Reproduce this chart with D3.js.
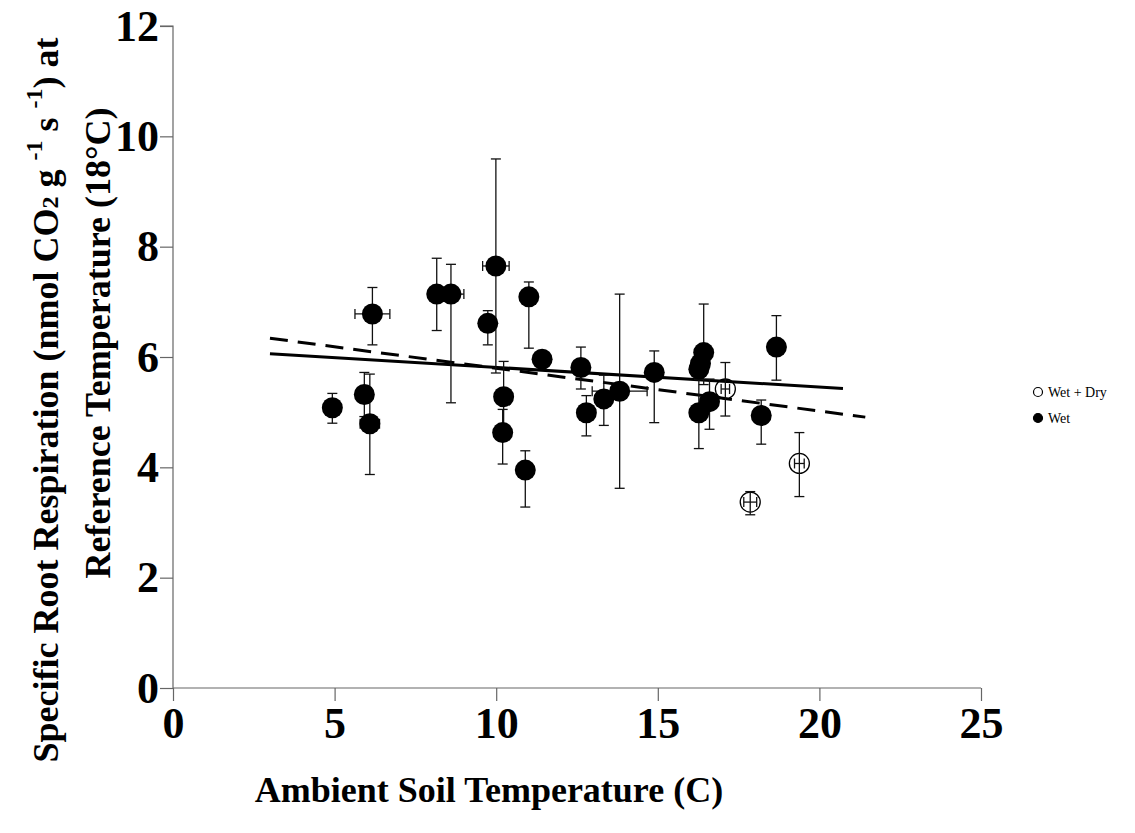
<!DOCTYPE html>
<html><head><meta charset="utf-8">
<script src="https://cdn.jsdelivr.net/npm/d3@7"></script>
<style>body{margin:0;background:#fff}svg{display:block}</style>
</head><body>
<svg id="c" width="1135" height="833"></svg>
<script>
// ---- data ----
const wetX   = [4.93,5.92,6.09,6.17,8.16,8.60,9.74,9.99,11.01,11.42,10.23,10.20,10.90,12.62,12.79,13.33,13.82,14.89,16.42,16.32,16.27,16.27,16.60,18.67,18.20];
const wetY   = [5.08,5.32,4.79,6.78,7.14,7.14,6.61,7.65,7.09,5.96,5.28,4.63,3.95,5.81,4.99,5.24,5.38,5.72,6.08,5.88,5.78,4.99,5.19,6.18,4.94];
const wetYLo = [4.80,4.92,3.87,6.22,6.48,5.17,6.22,5.71,6.16,5.96,4.64,4.06,3.28,5.42,4.57,4.76,3.62,4.81,5.50,5.70,5.60,4.34,4.69,5.58,4.42];
const wetYHi = [5.34,5.72,5.69,7.26,7.79,7.68,6.84,9.59,7.36,5.96,5.92,5.05,4.30,6.18,5.30,5.67,7.14,6.11,6.96,6.10,6.00,5.60,5.60,6.75,5.22];
const wetXErr= [0,0,0.30,0.54,0,0.40,0,0.41,0,0,0,0,0,0,0,0,0.85,0,0,0,0,0,0,0,0];
const dryX   = [17.09,17.86,19.38];
const dryY   = [5.42,3.37,4.07];
const dryYLo = [4.93,3.14,3.47];
const dryYHi = [5.90,3.56,4.63];
const dryXErr= [0.13,0.20,0.15];
const solidX = [3.0,20.73], solidY = [6.06,5.43];
const dashX  = [3.0,21.42], dashY  = [6.34,4.91];
const xTicks = [0,5,10,15,20,25];
const yTicks = [0,2,4,6,8,10,12];
const legendLabels = ["Wet + Dry","Wet"];

// ---- chart ----
const svg = d3.select("#c");
const font = "'Times New Roman','Liberation Serif',serif";
const x = d3.scaleLinear().domain([0,25]).range([173,981]);
const y = d3.scaleLinear().domain([0,12]).range([688,26]);
const axisCol = "#666";

const xAxis = svg.append("g").attr("transform","translate(0,688)")
  .call(d3.axisBottom(x).tickValues(xTicks).tickSize(13).tickPadding(6));
const yAxis = svg.append("g").attr("transform","translate(173,0)")
  .call(d3.axisLeft(y).tickValues(yTicks).tickSize(13).tickPadding(1));
[xAxis,yAxis].forEach(a=>{
  a.select(".domain").attr("stroke",axisCol).attr("stroke-width",1.2);
  a.selectAll(".tick line").attr("stroke",axisCol).attr("stroke-width",1.2);
  a.selectAll("text").attr("font-family",font).attr("font-weight","bold").attr("font-size",44).attr("fill","#000");
});
yAxis.select(".domain").attr("d",`M-13,${y(12)}H0V${y(0)}`);
xAxis.select(".domain").attr("d",`M${x(0)},0H${x(25)}`);

// trend lines
const line = d3.line().x(d=>x(d[0])).y(d=>y(d[1]));
svg.append("path").attr("d",line(d3.zip(solidX,solidY))).attr("stroke","#000").attr("stroke-width",3).attr("fill","none");
svg.append("path").attr("d",line(d3.zip(dashX,dashY))).attr("stroke","#000").attr("stroke-width",3).attr("fill","none").attr("stroke-dasharray","18,10");

// error bars
function errBars(X,Y,Lo,Hi,XE){
  const g = svg.append("g").attr("stroke","#111").attr("stroke-width",1.3).attr("fill","none");
  X.forEach((xv,i)=>{
    const cx=x(xv), cap=5;
    if(Hi[i]>Lo[i]){
      g.append("line").attr("x1",cx).attr("x2",cx).attr("y1",y(Lo[i])).attr("y2",y(Hi[i]));
      g.append("line").attr("x1",cx-cap).attr("x2",cx+cap).attr("y1",y(Lo[i])).attr("y2",y(Lo[i]));
      g.append("line").attr("x1",cx-cap).attr("x2",cx+cap).attr("y1",y(Hi[i])).attr("y2",y(Hi[i]));
    }
    if(XE[i]>0){
      const cy=y(Y[i]);
      g.append("line").attr("x1",x(xv-XE[i])).attr("x2",x(xv+XE[i])).attr("y1",cy).attr("y2",cy);
      g.append("line").attr("x1",x(xv-XE[i])).attr("x2",x(xv-XE[i])).attr("y1",cy-cap).attr("y2",cy+cap);
      g.append("line").attr("x1",x(xv+XE[i])).attr("x2",x(xv+XE[i])).attr("y1",cy-cap).attr("y2",cy+cap);
    }
  });
}
errBars(wetX,wetY,wetYLo,wetYHi,wetXErr);
svg.append("g").selectAll("circle").data(d3.zip(wetX,wetY)).join("circle")
  .attr("cx",d=>x(d[0])).attr("cy",d=>y(d[1])).attr("r",10.5).attr("fill","#000");
svg.append("g").selectAll("circle").data(d3.zip(dryX,dryY)).join("circle")
  .attr("cx",d=>x(d[0])).attr("cy",d=>y(d[1])).attr("r",10).attr("fill","none").attr("stroke","#000").attr("stroke-width",1.3);
errBars(dryX,dryY,dryYLo,dryYHi,dryXErr);

// legend
const lg = svg.append("g").attr("font-family",font).attr("font-size",14);
legendLabels.forEach((t,i)=>{
  const ly = 392 + i*26;
  lg.append("circle").attr("cx",1038).attr("cy",ly).attr("r",4.5)
    .attr("fill", i===0?"#fff":"#000").attr("stroke","#000").attr("stroke-width",1.2);
  lg.append("text").attr("x",1048).attr("y",ly+5).text(t);
});

// axis titles
svg.append("text").attr("x",489).attr("y",802).attr("text-anchor","middle")
  .attr("font-family",font).attr("font-weight","bold").attr("font-size",36).text("Ambient Soil Temperature (C)");
const t1 = svg.append("text").attr("transform","translate(58,400) rotate(-90)").attr("text-anchor","middle")
  .attr("font-family",font).attr("font-weight","bold").attr("font-size",36);
t1.append("tspan").text("Specific Root Respiration (nmol CO");
t1.append("tspan").attr("font-size",24).text("2");
t1.append("tspan").text(" g ");
t1.append("tspan").attr("font-size",24).attr("dy",-16).text("-1");
t1.append("tspan").attr("dy",16).text(" s ");
t1.append("tspan").attr("font-size",24).attr("dy",-16).text("-1");
t1.append("tspan").attr("dy",16).text(") at");
svg.append("text").attr("transform","translate(110,343) rotate(-90)").attr("text-anchor","middle")
  .attr("font-family",font).attr("font-weight","bold").attr("font-size",36).text("Reference Temperature (18°C)");
</script>
</body></html>
